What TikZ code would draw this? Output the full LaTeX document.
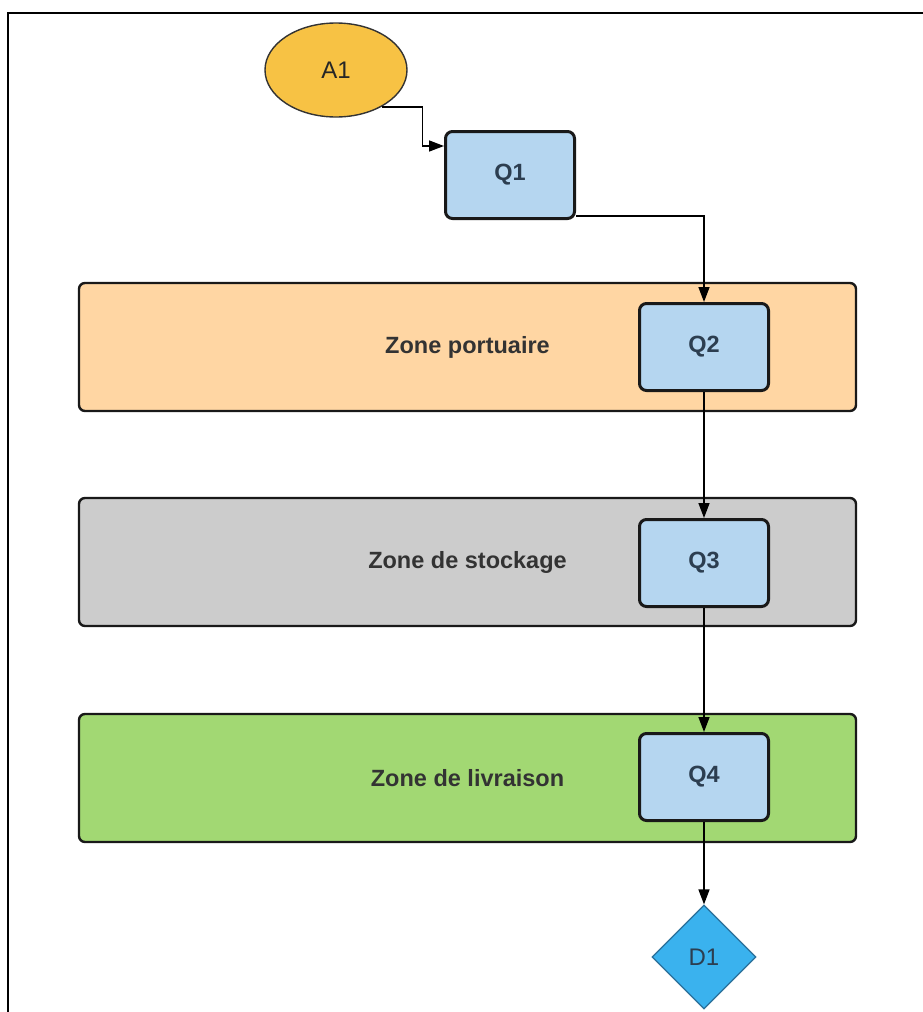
\documentclass[tikz,border=0pt]{standalone}
\usepackage{fontspec}
\setmainfont{Liberation Sans}
\usetikzlibrary{arrows.meta,shapes.geometric}

\definecolor{startfill}{HTML}{F7C244}
\definecolor{taskfill}{HTML}{B5D6F0}
\definecolor{portfill}{HTML}{FFD6A3}
\definecolor{storefill}{HTML}{CCCCCC}
\definecolor{deliverfill}{HTML}{A2D873}
\definecolor{endfill}{HTML}{3AB2EE}
\definecolor{endline}{HTML}{2A6F99}
\definecolor{labeltext}{HTML}{333333}
\definecolor{tasktext}{HTML}{2C3E50}

\tikzset{
  zonebox/.style={draw=black!90, line width=2.4pt, rounded corners=6pt,
    minimum width=777pt, minimum height=128pt, inner sep=0pt,
    font=\fontsize{23.5}{27}\selectfont\bfseries, text=labeltext},
  taskbox/.style={draw=black!90, line width=3pt, fill=taskfill, rounded corners=7pt,
    minimum width=129pt, minimum height=87pt, inner sep=0pt,
    font=\fontsize{23.5}{27}\selectfont\bfseries, text=tasktext},
  startnode/.style={ellipse, draw=black!80, line width=1.4pt, fill=startfill,
    minimum width=142pt, minimum height=94pt, inner sep=0pt,
    font=\fontsize{24}{28}\selectfont, text=black!85},
  endnode/.style={diamond, draw=endline, line width=1.2pt, fill=endfill, aspect=1,
    minimum width=104pt, minimum height=104pt, inner sep=0pt,
    font=\fontsize{24}{28}\selectfont, text=tasktext},
  flow/.style={draw=black, line width=1.5pt, -{Triangle[length=15pt,width=11pt]}},
  frameline/.style={draw=black, line width=2.2pt}
}

\begin{document}
\begin{tikzpicture}[x=1pt,y=-1pt]
  \useasboundingbox (0,0) rectangle (922,1012);

  % outer frame (left and top edges)
  \draw[frameline] (8,1013) -- (8,13) -- (923,13);

  % zones
  \node[zonebox, fill=portfill]    (zport)  at (467.5,347) {Zone portuaire};
  \node[zonebox, fill=storefill]   (zstore) at (467.5,562) {Zone de stockage};
  \node[zonebox, fill=deliverfill] (zdeliv) at (467.5,778) {Zone de livraison};

  % activities
  \node[startnode] (A1) at (336,70) {A1};
  \node[taskbox] (Q1) at (510,175) {Q1};
  \node[taskbox] (Q2) at (704,347) {Q2};
  \node[taskbox] (Q3) at (704,563) {Q3};
  \node[taskbox] (Q4) at (704,777) {Q4};
  \node[endnode] (D1) at (704,957) {D1};

  % connectors
  \coordinate (q1in) at ([yshift=-16pt]Q1.north west);
  \coordinate (q1out) at ([yshift=4pt]Q1.south east);
  \draw[flow] (A1.-39) -- ++(41,0) |- (q1in);
  \draw[flow] (q1out) -| (Q2.north);
  \draw[flow] (Q2.south) -- (Q3.north);
  \draw[flow] (Q3.south) -- (Q4.north);
  \draw[flow] (Q4.south) -- (D1.north);
\end{tikzpicture}
\end{document}
